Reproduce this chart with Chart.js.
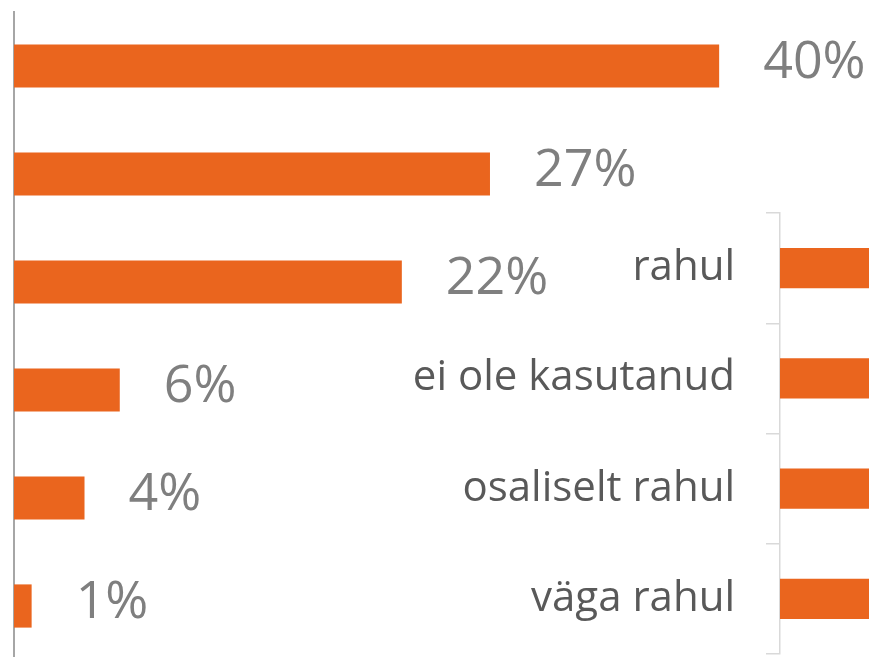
<!DOCTYPE html>
<html>
<head>
<meta charset="utf-8">
<script src="https://cdn.jsdelivr.net/npm/chart.js@4"></script>
<style>
html,body{margin:0;padding:0;width:869px;height:657px;overflow:hidden;background:#fff;}
#wrap{position:relative;width:869px;height:657px;overflow:hidden;}
#c1{position:absolute;left:0;top:0;}
#c2{position:absolute;left:400px;top:203px;}
</style>
</head>
<body>
<div id="wrap">
  <canvas id="c1" width="869" height="672"></canvas>
  <canvas id="c2" width="700" height="461"></canvas>
</div>
<script>
// Main chart (category names are not visible in the picture)
const mainCategories = ['k1', 'k2', 'k3', 'k4', 'k5', 'k6'];
const mainValues = [40, 27, 22, 6, 4, 1];

// Overlapping chart at the right (its bars are cut off by the picture edge)
const sideCategories = ['rahul', 'ei ole kasutanud', 'osaliselt rahul', 'väga rahul'];
const sideValues = [40, 27, 22, 6];

const ORANGE = '#EA651E';
const FONT = "'Open Sans', sans-serif";

const valueLabels = {
  id: 'valueLabels',
  afterDatasetsDraw(chart) {
    const ctx = chart.ctx;
    const meta = chart.getDatasetMeta(0);
    ctx.save();
    ctx.font = "52px " + FONT;
    ctx.fillStyle = '#7f7f7f';
    ctx.textAlign = 'left';
    ctx.textBaseline = 'alphabetic';
    meta.data.forEach((bar, i) => {
      ctx.fillText(mainValues[i] + '%', bar.x + 44, bar.y + 12);
    });
    ctx.restore();
  }
};

new Chart(document.getElementById('c1'), {
  type: 'bar',
  data: {
    labels: mainCategories,
    datasets: [{
      data: mainValues,
      backgroundColor: ORANGE,
      borderWidth: 0,
      categoryPercentage: 1,
      barPercentage: 0.4
    }]
  },
  options: {
    indexAxis: 'y',
    responsive: false,
    animation: false,
    layout: {padding: {left: 14, top: 12, bottom: 12, right: 0}},
    plugins: {legend: {display: false}, tooltip: {enabled: false}},
    scales: {
      x: {display: false, min: 0, max: 48.5},
      y: {
        display: true,
        z: 1,
        grid: {display: false, drawTicks: false},
        ticks: {display: false},
        border: {display: true, color: '#a6a6a6', width: 2},
        afterFit(s) { s.width = 0; s.paddingTop = 0; s.paddingBottom = 0; }
      }
    }
  },
  plugins: [valueLabels]
});

new Chart(document.getElementById('c2'), {
  type: 'bar',
  data: {
    labels: sideCategories,
    datasets: [{
      data: sideValues,
      backgroundColor: ORANGE,
      borderWidth: 0,
      categoryPercentage: 1,
      barPercentage: 0.363
    }]
  },
  options: {
    indexAxis: 'y',
    responsive: false,
    animation: false,
    layout: {padding: {left: 0, top: 10, bottom: 10, right: 0}},
    plugins: {legend: {display: false}, tooltip: {enabled: false}},
    scales: {
      x: {display: false, min: 0, max: 5},
      y: {
        display: true,
        z: 1,
        grid: {display: true, drawOnChartArea: false, drawTicks: true, tickLength: 14, color: '#d9d9d9', lineWidth: 1.5, offset: true},
        border: {display: true, color: '#d9d9d9', width: 1.5},
        ticks: {color: '#595959', font: {family: FONT, size: 42}, padding: 31},
        afterFit(s) { s.width = 380; s.paddingTop = 0; s.paddingBottom = 0; }
      }
    }
  }
});
</script>
</body>
</html>
